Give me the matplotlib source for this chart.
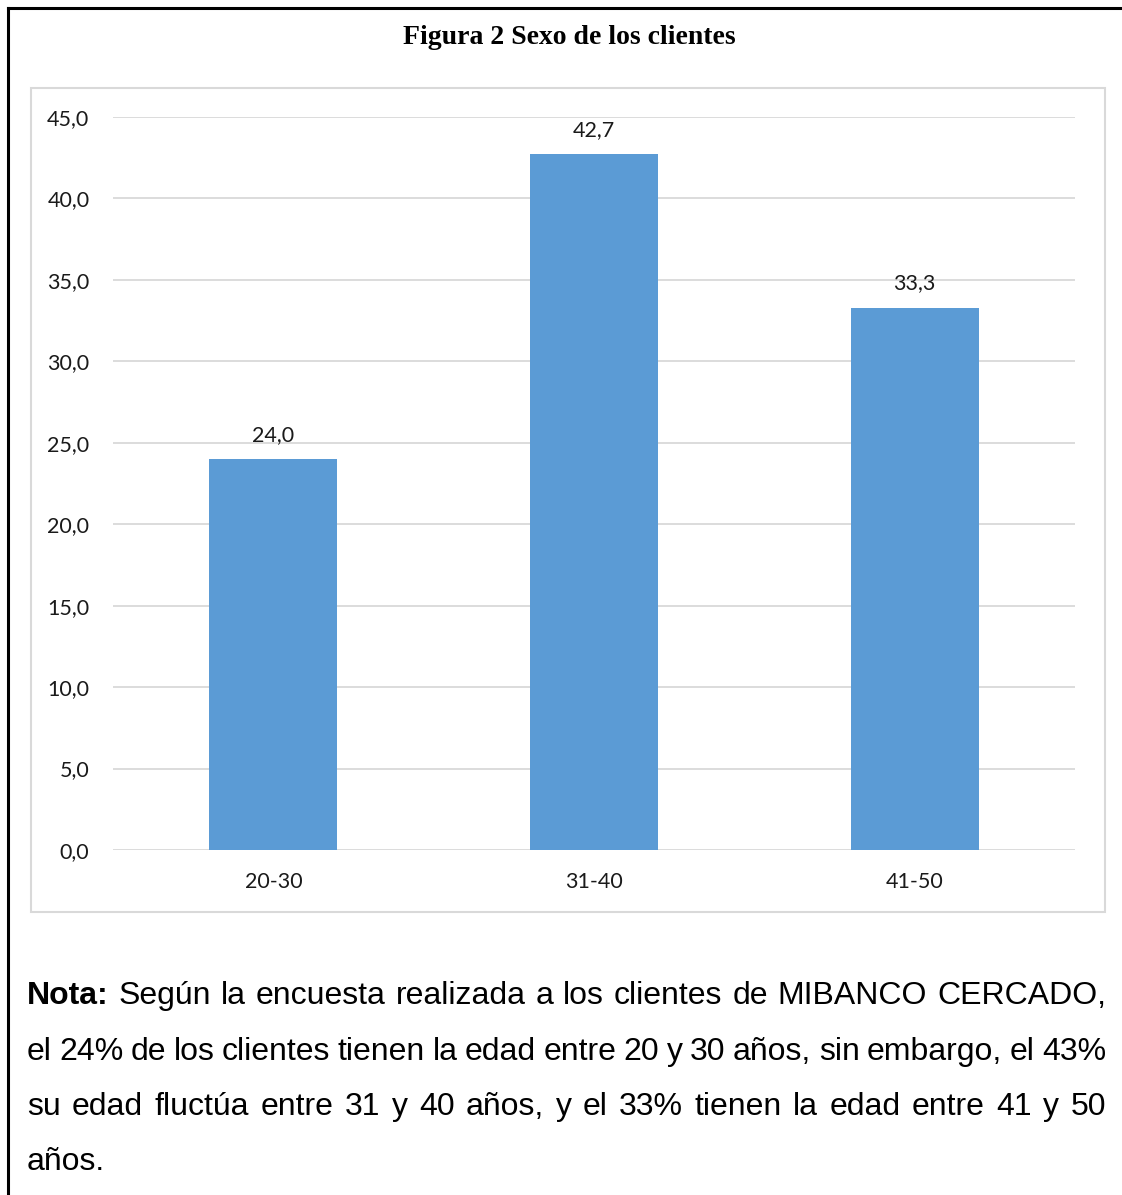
import matplotlib.pyplot as plt
from matplotlib.patches import Rectangle
from matplotlib.lines import Line2D

categorias = ['20-30', '31-40', '41-50']
valores = [24.0, 42.7, 33.3]
yticks = [0, 5, 10, 15, 20, 25, 30, 35, 40, 45]

titulo = 'Figura 2 Sexo de los clientes'
nota_lineas = [
    ['Nota:', 'Según', 'la', 'encuesta', 'realizada', 'a', 'los', 'clientes', 'de', 'MIBANCO', 'CERCADO,'],
    ['el', '24%', 'de', 'los', 'clientes', 'tienen', 'la', 'edad', 'entre', '20', 'y', '30', 'años,', 'sin', 'embargo,', 'el', '43%'],
    ['su', 'edad', 'fluctúa', 'entre', '31', 'y', '40', 'años,', 'y', 'el', '33%', 'tienen', 'la', 'edad', 'entre', '41', 'y', '50'],
    ['años.'],
]

W, H = 1122, 1195
fig = plt.figure(figsize=(W / 100, H / 100), dpi=100)

# marco exterior (solo arriba e izquierda visibles)
fig.add_artist(Line2D([8 / W, 1], [1 - 8 / H, 1 - 8 / H], color='black', lw=2.2))
fig.add_artist(Line2D([8 / W, 8 / W], [1 - 8 / H, 0], color='black', lw=2.2))

# recuadro del grafico
fig.add_artist(Rectangle((31 / W, 1 - 912 / H), (1105 - 31) / W, (912 - 88) / H,
                         transform=fig.transFigure, fill=False, ec='#D9D9D9', lw=1.5))

fig.text(569 / W, 1 - 38 / H, titulo, ha='center', va='center',
         fontsize=20, fontweight='bold', family='Liberation Serif')

ax = fig.add_axes([113 / W, 1 - 850 / H, 962 / W, 733 / H])
x = range(len(categorias))
bars = ax.bar(x, valores, width=0.4, color='#5B9BD5', zorder=3)
ax.set_xlim(-0.5, 2.5)
ax.set_ylim(0, 45)
ax.set_yticks(yticks)
ax.set_yticklabels([f'{v:.1f}'.replace('.', ',') for v in yticks])
ax.set_xticks(list(x))
ax.set_xticklabels(categorias)
ax.grid(axis='y', color='#D9D9D9', lw=1.3, zorder=0)
for s in ax.spines.values():
    s.set_visible(False)
ax.tick_params(length=0, labelsize=15.5, colors='#1a1a1a')
ax.tick_params(axis='y', pad=17)
ax.tick_params(axis='x', pad=16)
for lab in ax.get_xticklabels() + ax.get_yticklabels():
    lab.set_family('Lato')
for b, v in zip(bars, valores):
    ax.annotate(f'{v:.1f}'.replace('.', ','), (b.get_x() + b.get_width() / 2, v),
                xytext=(0, 13), textcoords='offset points', ha='center', va='baseline',
                fontsize=15.5, family='Lato', color='#1a1a1a')

# nota justificada
fig.canvas.draw()
r = fig.canvas.get_renderer()
x0, x1 = 27, 1106
baselines = [1004, 1060, 1115, 1170]
for i, (palabras, yb) in enumerate(zip(nota_lineas, baselines)):
    textos = []
    for j, p in enumerate(palabras):
        bold = (i == 0 and j == 0)
        t = fig.text(0, 1 - yb / H, p, fontsize=23, family='Liberation Sans',
                     fontweight='bold' if bold else 'normal', va='baseline', ha='left')
        textos.append(t)
    anchos = [t.get_window_extent(r).width for t in textos]
    if i < len(nota_lineas) - 1 and len(textos) > 1:
        esp = (x1 - x0 - sum(anchos)) / (len(textos) - 1)
    else:
        esp = 8
    pos = x0
    for t, a in zip(textos, anchos):
        t.set_x(pos / W)
        pos += a + esp

fig.savefig('out.png', dpi=100)
